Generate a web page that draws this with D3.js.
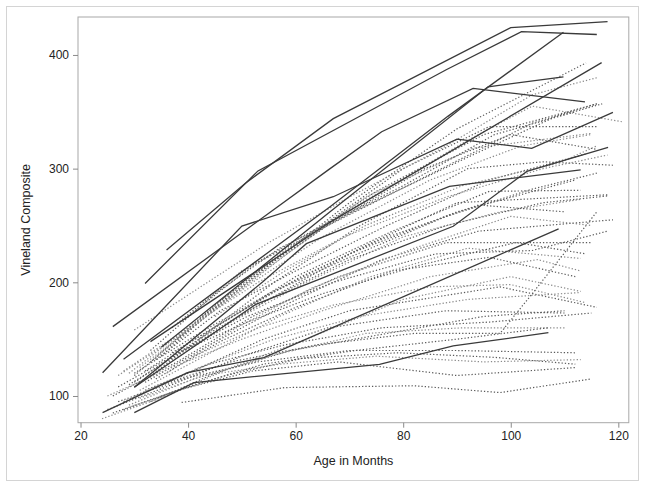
<!DOCTYPE html>
<html>
<head>
<meta charset="utf-8">
<script src="https://cdn.jsdelivr.net/npm/d3@7"></script>
<style>
  body { margin: 0; background: #fff; }
  svg { display: block; font-family: "Liberation Sans", Arial, sans-serif; }
</style>
</head>
<body>
<div id="chart"></div>
<script>
// tick labels
const xTicks = [20, 40, 60, 80, 100, 120];
const yTicks = [100, 200, 300, 400];

// solid profiles: [age in months, vineland composite]
const solidLines = [
  [[36, 228.5], [50.6, 287], [67, 344], [100, 424], [118, 429.3]],
  [[32, 199], [53, 298], [88, 387], [102, 420.5], [116, 418]],
  [[26, 161], [66.4, 300], [76, 332.5], [93, 370.6], [113.8, 358.8]],
  [[28, 132.3], [66.4, 266.5], [88.3, 346], [109.8, 420]],
  [[35, 142.8], [66.4, 262], [95.8, 372], [109.8, 380.8]],
  [[33, 147.8], [66.4, 253], [116.9, 393.3]],
  [[24.1, 120.5], [50, 249.5], [67, 275.3], [90, 326], [103.9, 317.8], [119, 349.5]],
  [[30, 107.7], [53.9, 200.5], [62, 234], [88.6, 284.4], [113, 299]],
  [[30, 107.7], [52.6, 180.6], [89.3, 249.3], [103, 297.6], [118.1, 318.7]],
  [[24.1, 85.3], [39.9, 120.6], [54.1, 133.8], [108.9, 247]],
  [[30, 85.3], [41.1, 111.8], [75.6, 127.9], [89.3, 144], [107, 155.7]]
];

// dotted profiles
const dottedLines = [
  [[30, 118], [42, 165], [55, 215], [70, 270], [90, 335], [114, 393]],
  [[28, 122], [40, 160], [54, 210], [68, 258], [92, 325], [104, 355], [121, 341]],
  [[33, 130], [45, 180], [58, 228], [75, 280], [95, 330], [116, 357]],
  [[35, 135], [48, 190], [62, 240], [80, 300], [96, 337], [116, 337]],
  [[31, 125], [44, 172], [57, 220], [73, 275], [93, 318], [115, 331]],
  [[38, 150], [50, 200], [66, 250], [84, 300], [100, 330], [116, 317]],
  [[30, 112], [42, 150], [56, 200], [72, 250], [92, 300], [106, 306], [119, 303]],
  [[27, 118], [39, 155], [52, 200], [65, 240], [85, 290], [102, 320], [115, 330]],
  [[33, 118], [45, 160], [60, 205], [78, 245], [96, 280], [113, 281]],
  [[29, 110], [41, 145], [55, 185], [72, 230], [90, 270], [118, 277]],
  [[36, 128], [48, 165], [62, 200], [80, 240], [98, 262], [113, 273]],
  [[32, 112], [44, 145], [58, 180], [76, 220], [94, 245], [119, 255]],
  [[26, 100], [38, 130], [52, 170], [68, 205], [88, 235], [115, 235]],
  [[31, 105], [43, 135], [57, 170], [74, 205], [92, 230], [113, 221]],
  [[34, 115], [46, 148], [60, 178], [78, 210], [96, 222], [112, 205]],
  [[28, 95], [40, 120], [54, 150], [70, 175], [90, 190], [98, 196], [116, 178]],
  [[30, 100], [42, 125], [56, 150], [72, 170], [92, 185], [113, 191]],
  [[25, 88], [37, 110], [50, 135], [66, 160], [88, 175], [110, 173]],
  [[32, 105], [44, 128], [58, 145], [76, 160], [96, 165], [115, 173]],
  [[29, 92], [41, 115], [55, 135], [73, 155], [91, 160], [110, 160]],
  [[35, 110], [48, 130], [64, 145], [82, 155], [98, 155], [104, 190], [116, 262]],
  [[27, 95], [39, 115], [53, 130], [70, 140], [90, 140], [112, 138]],
  [[31, 98], [43, 118], [57, 128], [75, 135], [95, 130], [113, 132]],
  [[26, 85], [38, 105], [52, 122], [68, 130], [90, 118], [112, 125]],
  [[38.8, 94.3], [58, 107.4], [82, 109], [98, 103], [115, 115]],
  [[24, 80], [36, 100], [48, 125], [62, 150], [80, 185], [100, 205], [113, 192]],
  [[33, 140], [45, 190], [57, 230], [72, 265], [92, 310], [108, 345], [117, 357]],
  [[37, 160], [50, 210], [63, 245], [80, 285], [97, 330], [112, 350]],
  [[29, 120], [40, 160], [53, 200], [69, 240], [88, 275], [106, 300], [118, 312]],
  [[40, 170], [52, 215], [66, 250], [85, 295], [104, 340], [116, 357]],
  [[34, 132], [46, 175], [60, 210], [77, 250], [96, 290], [114, 313]],
  [[36, 120], [49, 160], [63, 195], [82, 230], [100, 258], [115, 250]],
  [[42, 150], [55, 185], [70, 220], [88, 250], [106, 270], [118, 276]],
  [[27, 108], [39, 140], [51, 170], [67, 200], [86, 225], [104, 228], [118, 245]],
  [[45, 170], [58, 210], [73, 250], [91, 285], [109, 305], [116, 320]],
  [[30, 120], [42, 155], [55, 190], [70, 225], [90, 262], [112, 290]],
  [[39, 140], [51, 165], [65, 190], [83, 215], [101, 235], [114, 225]],
  [[25, 100], [37, 125], [50, 150], [65, 175], [85, 205], [105, 220], [113, 210]],
  [[33, 95], [45, 120], [59, 140], [77, 155], [95, 170], [110, 175]],
  [[28, 88], [40, 108], [54, 128], [71, 140], [90, 150], [107, 160]],
  [[30, 158], [42, 195], [55, 235], [70, 275], [88, 320], [104, 365], [116, 380]],
  [[32, 122], [44, 158], [56, 192], [70, 222], [88, 258], [104, 282], [116, 296]],
  [[37, 138], [49, 172], [61, 205], [76, 238], [94, 268], [110, 262]],
  [[41, 135], [53, 160], [67, 180], [85, 196], [100, 198], [114, 182]],
  [[35, 100], [47, 118], [61, 133], [79, 138], [97, 134], [112, 128]]
];

const width = 646, height = 488;
const plot = { left: 78, right: 628.8, top: 17, bottom: 422.7 };

const svg = d3.select('#chart')
  .append('svg')
  .attr('width', width)
  .attr('height', height);

// outer border
svg.append('rect')
  .attr('x', 6.5).attr('y', 6.5)
  .attr('width', 632).attr('height', 474)
  .attr('fill', 'none')
  .attr('stroke', '#d4d4d4');

const x = d3.scaleLinear().domain([19.53, 121.95]).range([plot.left, plot.right]);
const y = d3.scaleLinear().domain([76.5, 433.4]).range([plot.bottom, plot.top]);

const line = d3.line()
  .x(d => x(d[0]))
  .y(d => y(d[1]));

// dotted lines first so solid ones sit on top
svg.append('g')
  .selectAll('path')
  .data(dottedLines)
  .join('path')
  .attr('d', line)
  .attr('fill', 'none')
  .attr('stroke', (d, i) => i % 3 === 1 ? '#8a8a8a' : '#5a5a5a')
  .attr('stroke-width', 1.2)
  .attr('stroke-dasharray', '1.3,2');

svg.append('g')
  .selectAll('path')
  .data(solidLines)
  .join('path')
  .attr('d', line)
  .attr('fill', 'none')
  .attr('stroke', '#3a3a3a')
  .attr('stroke-width', 1.3);

// plot frame
svg.append('rect')
  .attr('x', plot.left).attr('y', plot.top)
  .attr('width', plot.right - plot.left).attr('height', plot.bottom - plot.top)
  .attr('fill', 'none')
  .attr('stroke', '#a8a8a8');

// axes
svg.append('g')
  .attr('class', 'axis axis-x')
  .attr('transform', `translate(0,${plot.bottom})`)
  .call(d3.axisBottom(x).tickValues(xTicks).tickSize(5).tickPadding(4));

svg.append('g')
  .attr('class', 'axis axis-y')
  .attr('transform', `translate(${plot.left},0)`)
  .call(d3.axisLeft(y).tickValues(yTicks).tickSize(5).tickPadding(4));

svg.selectAll('.axis .domain').remove();
svg.selectAll('.axis line').attr('stroke', '#8a8a8a');
svg.selectAll('.axis text')
  .attr('fill', '#222')
  .style('font-size', '12px')
  .style('font-family', '"Liberation Sans", Arial, sans-serif');

// axis titles
svg.append('text')
  .attr('x', (plot.left + plot.right) / 2)
  .attr('y', 465)
  .attr('text-anchor', 'middle')
  .attr('fill', '#222')
  .style('font-size', '12.5px')
  .text('Age in Months');

svg.append('text')
  .attr('transform', `translate(30,${(plot.top + plot.bottom) / 2}) rotate(-90)`)
  .attr('text-anchor', 'middle')
  .attr('fill', '#222')
  .style('font-size', '12.5px')
  .text('Vineland Composite');
</script>
</body>
</html>
